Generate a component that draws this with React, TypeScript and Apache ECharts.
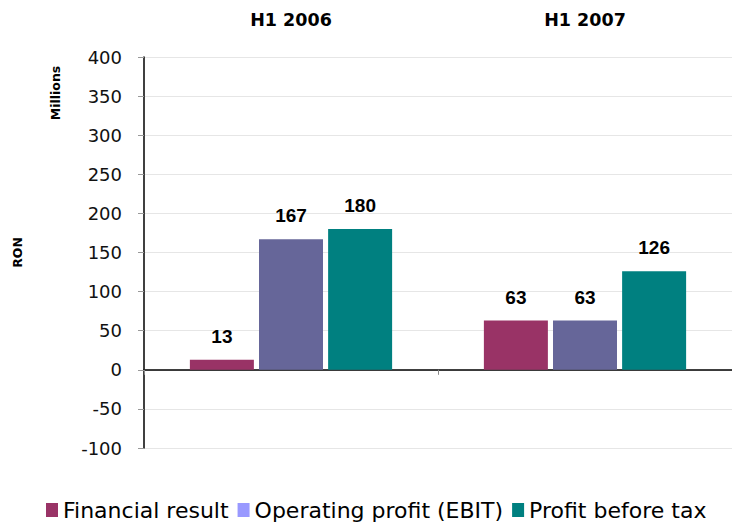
import React, { useEffect, useRef } from "react";
import * as echarts from "echarts";

const categories = ["H1 2006", "H1 2007"];
const financialResult = [13, 63];
const operatingProfit = [167, 63];
const profitBeforeTax = [180, 126];
const seriesNames = ["Financial result", "Operating profit (EBIT)", "Profit before tax"];
const yMin = -100;
const yMax = 400;
const yInterval = 50;

export default function App() {
  const ref = useRef<HTMLDivElement>(null);
  useEffect(() => {
    if (!ref.current) return;
    const chart = echarts.init(ref.current, undefined, { renderer: "svg" });
    const labelStyle = {
      show: true,
      position: "top" as const,
      distance: 14,
      fontFamily: "Liberation Sans, Arial, sans-serif",
      fontWeight: "bold" as const,
      fontSize: 19,
      color: "#000",
    };
    const mk = (name: string, data: number[], color: string) => ({
      name,
      type: "bar" as const,
      xAxisIndex: 1,
      data,
      barWidth: 64,
      barGap: "8%",
      itemStyle: { color },
      label: labelStyle,
    });
    chart.setOption({
      animation: false,
      grid: { left: 144, right: -6, top: 57, bottom: 79, containLabel: false },
      legend: {
        left: 41,
        bottom: 1,
        itemWidth: 12,
        itemHeight: 14,
        itemGap: 9,
        icon: "rect",
        textStyle: { fontFamily: "DejaVu Sans, sans-serif", fontSize: 22, color: "#000" },
        data: [
          { name: seriesNames[0], itemStyle: { color: "#993366" } },
          { name: seriesNames[1], itemStyle: { color: "#9999ff" } },
          { name: seriesNames[2], itemStyle: { color: "#008080" } },
        ],
      },
      xAxis: [
        {
          type: "category",
          data: categories,
          position: "top",
          axisLine: { show: false, onZero: false },
          axisTick: { show: false },
          axisLabel: {
            margin: 28,
            fontFamily: "DejaVu Sans, sans-serif",
            fontWeight: "bold",
            fontSize: 17.5,
            color: "#000",
          },
        },
        {
          type: "category",
          data: categories,
          position: "bottom",
          axisLine: { show: true, onZero: true, lineStyle: { color: "#000", width: 1.5 } },
          axisTick: { show: true, length: 5, lineStyle: { color: "#888", width: 1 } },
          axisLabel: { show: false },
        },
      ],
      yAxis: {
        type: "value",
        min: yMin,
        max: yMax,
        interval: yInterval,
        name: "RON",
        nameLocation: "middle",
        nameRotate: 90,
        nameGap: 120,
        nameTextStyle: {
          fontFamily: "DejaVu Sans, sans-serif",
          fontWeight: "bold",
          fontSize: 12.5,
          color: "#000",
        },
        axisLine: { show: true, lineStyle: { color: "#000", width: 1.5 } },
        axisTick: { show: true, length: 6, lineStyle: { color: "#999" } },
        splitLine: { show: true, lineStyle: { color: "#e6e6e6" } },
        axisLabel: {
          margin: 22,
          fontFamily: "DejaVu Sans, sans-serif",
          fontSize: 18,
          color: "#111",
        },
      },
      graphic: [
        {
          type: "text",
          x: 55,
          y: 93,
          rotation: Math.PI / 2,
          style: {
            text: "Millions",
            fontFamily: "DejaVu Sans, sans-serif",
            fontWeight: "bold",
            fontSize: 12.5,
            fill: "#000",
            align: "center",
            verticalAlign: "middle",
          },
        },
      ],
      series: [
        mk(seriesNames[0], financialResult, "#993366"),
        mk(seriesNames[1], operatingProfit, "#666699"),
        mk(seriesNames[2], profitBeforeTax, "#008080"),
      ],
    });
    return () => chart.dispose();
  }, []);
  return <div ref={ref} style={{ width: 732, height: 527, position: "absolute", left: 0, top: 0 }} />;
}
